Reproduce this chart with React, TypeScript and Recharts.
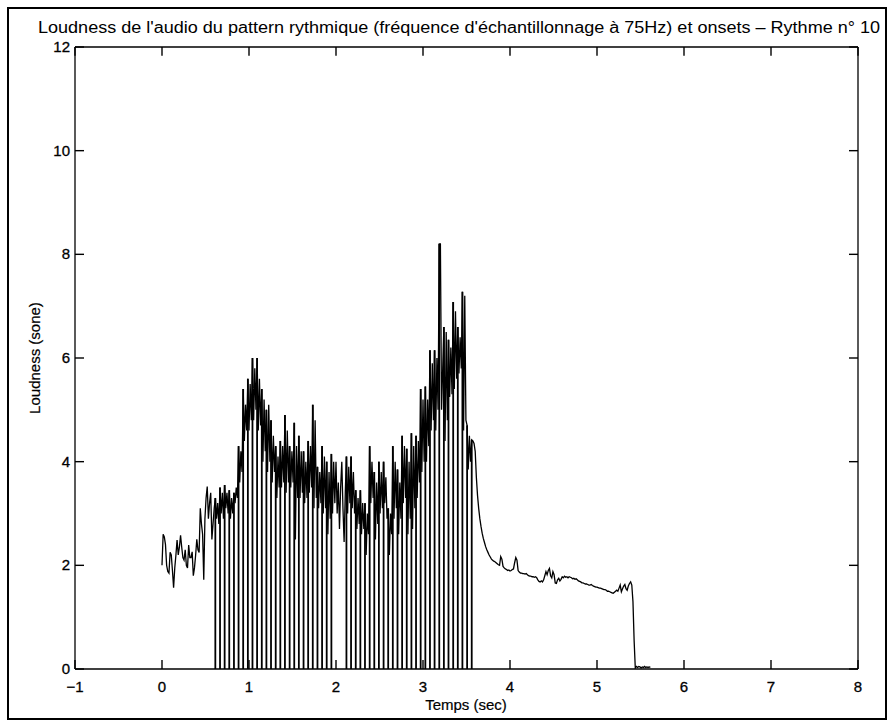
import React from "react";
import { ComposedChart, Line, XAxis, YAxis, ReferenceLine } from "recharts";

// loudness sampled at 75 Hz, starting at t = 0
const SAMPLE_RATE = 75;

const loudness = [
  // 0 - 0.6 s
  2.0, 2.6, 2.55, 2.4, 2.0, 1.88, 1.85, 2.25, 2.2, 1.9,
  1.57, 1.95, 2.2, 2.49, 2.2, 2.35, 2.58, 2.35, 2.15, 2.1,
  2.3, 2.0, 1.95, 2.39, 2.15, 2.15, 2.26, 1.8, 1.95, 2.2,
  2.5, 2.3, 2.25, 3.1, 2.8, 2.6, 1.72, 2.9, 3.3, 3.52,
  2.9, 3.2, 3.4, 2.5, 2.8, 3.1,
  // first onset group
  3.3, 2.9, 3.2, 2.8, 3.5, 3.0, 3.4, 2.9, 3.55, 3.1, 3.4, 3.0,
  3.45, 2.9, 3.3, 3.0, 3.4, 3.2, 3.5, 3.3, 4.3, 3.6, 4.2, 3.8,
  5.4, 4.4, 5.1, 4.6, 5.6, 4.6, 5.5, 4.8, 6.0, 4.8, 5.8, 5.0,
  6.0, 4.6, 5.6, 4.7, 5.4, 4.0, 5.2, 4.2, 5.0, 3.8, 5.1, 4.0,
  4.8, 3.6, 4.5, 3.8, 4.3, 3.3, 4.1, 3.5, 4.4, 3.5, 4.3, 3.6,
  4.9, 3.4, 4.6, 3.6, 4.3, 3.5, 4.2, 3.6, 4.75, 2.5, 4.3, 3.3,
  4.5, 3.3, 4.2, 3.4, 4.2, 3.2, 4.0, 3.3, 4.4, 3.4, 4.3, 3.5,
  5.1, 3.1, 4.8, 3.3, 3.9, 3.1, 3.8, 3.2, 4.3, 3.0, 4.1, 3.1,
  4.0, 2.6, 3.8, 2.9, 4.15, 3.0, 4.0, 3.2,
  // around 2 s, no onset
  4.0, 3.0, 3.6, 2.7, 3.5, 4.0, 3.1, 2.45, 3.4,
  // second onset group
  4.1, 3.0, 3.9, 3.2, 4.1, 3.1, 3.8, 3.0, 3.45, 2.7, 3.3, 2.8,
  3.45, 2.6, 3.2, 2.7, 3.2, 2.2, 3.0, 2.6, 4.3, 3.2, 4.0, 3.3,
  3.8, 2.5, 3.6, 2.8, 4.0, 3.0, 3.8, 3.1, 4.0, 3.2, 3.7, 2.9,
  3.1, 2.2, 3.0, 2.6, 4.3, 2.9, 4.0, 3.1, 3.85, 2.6, 3.6, 2.9,
  4.5, 3.2, 4.3, 3.3, 4.25, 2.6, 4.0, 2.9, 4.55, 2.7, 4.3, 3.1,
  4.5, 3.3, 4.4, 3.6, 5.4, 3.8, 5.2, 4.0, 5.45, 4.0, 5.2, 4.3,
  6.15, 4.6, 5.9, 4.8, 6.15, 4.6, 6.0, 5.0, 8.2, 8.2, 5.0, 5.8,
  6.6, 4.4, 6.5, 4.8, 6.35, 5.25, 6.2, 5.3, 7.08, 5.4, 6.9, 5.6,
  6.6, 5.7, 6.4, 5.8, 7.28, 4.6, 7.2, 4.8, 4.7, 3.85, 4.5, 4.0,
  4.42,
  // decay
  4.4, 4.35, 4.2, 3.7, 3.35, 3.1, 2.9, 2.75, 2.62, 2.52,
  2.44, 2.36, 2.3, 2.25, 2.2, 2.16, 2.12, 2.1, 2.08, 2.07,
  2.05, 2.03, 2.01, 2.0, 2.17, 2.12, 1.98, 1.95, 1.93, 1.92,
  1.9, 1.91, 1.89, 1.9, 1.92, 1.93, 2.05, 2.15, 2.1, 1.9,
  1.87, 1.85, 1.85, 1.84, 1.84, 1.83, 1.84, 1.82, 1.8, 1.79,
  1.79, 1.78, 1.78, 1.77, 1.78, 1.76, 1.72, 1.69, 1.68, 1.7,
  1.68, 1.72, 1.8, 1.88, 1.82, 1.9, 1.94, 1.8, 1.76, 1.88,
  1.82, 1.66, 1.65, 1.72, 1.75, 1.7, 1.73, 1.78, 1.76, 1.79,
  1.77, 1.78, 1.76, 1.78, 1.77, 1.76, 1.74, 1.75, 1.73, 1.74,
  1.72, 1.7, 1.69, 1.68, 1.66, 1.66, 1.65, 1.64, 1.64, 1.63,
  1.62, 1.62, 1.63, 1.61, 1.6, 1.59, 1.58, 1.58, 1.57, 1.56,
  1.56, 1.55, 1.54, 1.53, 1.53, 1.52, 1.5, 1.5, 1.49, 1.48,
  1.47, 1.46, 1.48, 1.5, 1.52, 1.5, 1.56, 1.62, 1.49, 1.55,
  1.6, 1.63, 1.55, 1.52, 1.6, 1.65, 1.68, 1.62, 1.3, 0.55,
  0.02, 0.05, 0.03, 0.05, 0.04, 0.02, 0.04, 0.03, 0.05, 0.03,
  0.04, 0.03, 0.04, 0.03,
];

// onset times (sec)
const onsetTimes = [
  0.613, 0.667, 0.72, 0.773, 0.827, 0.88, 0.933, 0.987, 1.04, 1.093,
  1.147, 1.2, 1.253, 1.307, 1.36, 1.413, 1.467, 1.52, 1.573, 1.627,
  1.68, 1.733, 1.787, 1.84, 1.893, 1.947,
  2.12, 2.173, 2.227, 2.28, 2.333, 2.387, 2.44, 2.493, 2.547, 2.6,
  2.653, 2.707, 2.76, 2.813, 2.867, 2.92, 2.973, 3.027, 3.08, 3.133,
  3.187, 3.24, 3.293, 3.347, 3.4, 3.453, 3.507, 3.56,
];

const xTicks = [-1, 0, 1, 2, 3, 4, 5, 6, 7, 8];
const yTicks = [0, 2, 4, 6, 8, 10, 12];

const series = loudness.map((v, i) => ({ t: i / SAMPLE_RATE, v }));
const onsets = onsetTimes.map((t) => ({ t, v: loudness[Math.round(t * SAMPLE_RATE)] }));

const FONT = "'Liberation Sans', Arial, sans-serif";
const MARGIN = { top: 47, right: 30, bottom: 21, left: 35 };
const Y_MAX = yTicks[yTicks.length - 1];
const TICK_LEN = 9;
const TOP_TICK_LEN = 0.17; // same 9px, in y units (622px for 12 units)
const TICK_W = 1.4;
const labelStyle = { fill: "#000", fontSize: 15, fontFamily: FONT, stroke: "#000", strokeWidth: 0.3 };
const axisLine = { stroke: "#000", strokeWidth: 1.3 };

const fmt = (v: number) => (v < 0 ? `\u2212${Math.abs(v)}` : `${v}`);

// MATLAB-style ticks: marks point inside the box
const BottomTick = (props: any) => {
  const { x, y, payload } = props;
  return (
    <g>
      <path d={`M${x},${y}V${y - TICK_LEN}`} stroke="#000" strokeWidth={TICK_W} fill="none" />
      <text x={x} y={y + 23} textAnchor="middle" style={labelStyle}>
        {fmt(payload.value)}
      </text>
    </g>
  );
};
const LeftTick = (props: any) => {
  const { x, y, payload } = props;
  return (
    <g>
      <path d={`M${x},${y}H${x + TICK_LEN}`} stroke="#000" strokeWidth={TICK_W} fill="none" />
      <text x={x - 5} y={y + 5} textAnchor="end" style={labelStyle}>
        {fmt(payload.value)}
      </text>
    </g>
  );
};
const RightTick = (props: any) => {
  const { x, y } = props;
  return <path d={`M${x},${y}H${x - TICK_LEN}`} stroke="#000" strokeWidth={TICK_W} fill="none" />;
};

export default function App() {
  return (
    <div style={{ position: "absolute", left: 0, top: 0, width: 889, height: 720, background: "#fff" }}>
      <div
        style={{
          position: "absolute",
          left: 7,
          top: 7,
          width: 880,
          height: 713,
          border: "2px solid #000",
          boxSizing: "border-box",
        }}
      />
      <div style={{ position: "absolute", left: 0, top: 0 }}>
        <ComposedChart width={889} height={720} data={series} margin={MARGIN}>
          <XAxis
            xAxisId="b"
            dataKey="t"
            type="number"
            domain={[-1, 8]}
            ticks={xTicks}
            interval={0}
            allowDataOverflow
            height={30}
            tickSize={0}
            tickMargin={0}
            tickLine={false}
            axisLine={axisLine}
            tick={BottomTick}
          />
          <YAxis
            yAxisId="l"
            type="number"
            domain={[0, 12]}
            ticks={yTicks}
            interval={0}
            allowDataOverflow
            width={40}
            tickSize={0}
            tickMargin={0}
            tickLine={false}
            axisLine={axisLine}
            tick={LeftTick}
          />
          <YAxis
            yAxisId="r"
            orientation="right"
            type="number"
            domain={[0, 12]}
            ticks={yTicks}
            interval={0}
            allowDataOverflow
            width={1}
            tickSize={0}
            tickMargin={0}
            tickLine={false}
            axisLine={axisLine}
            tick={RightTick}
          />
          {/* top edge of the box and its inward ticks */}
          <ReferenceLine xAxisId="b" yAxisId="l" y={Y_MAX} stroke="#000" strokeWidth={1.3} />
          {xTicks.map((x) => (
            <ReferenceLine
              key={`top-${x}`}
              xAxisId="b"
              yAxisId="l"
              ifOverflow="visible"
              segment={[
                { x, y: Y_MAX },
                { x, y: Y_MAX - TOP_TICK_LEN },
              ]}
              stroke="#000"
              strokeWidth={TICK_W}
            />
          ))}
          {/* invisible twin so the right box axis gets a scale */}
          <Line
            xAxisId="b"
            yAxisId="r"
            dataKey="v"
            stroke="none"
            dot={false}
            activeDot={false}
            isAnimationActive={false}
          />
          {onsets.map((o) => (
            <ReferenceLine
              key={o.t}
              xAxisId="b"
              yAxisId="l"
              segment={[
                { x: o.t, y: 0 },
                { x: o.t, y: o.v },
              ]}
              stroke="#000"
              strokeWidth={1.8}
            />
          ))}
          <Line
            xAxisId="b"
            yAxisId="l"
            dataKey="v"
            type="linear"
            stroke="#000"
            strokeWidth={1.3}
            dot={false}
            isAnimationActive={false}
          />
        </ComposedChart>
      </div>
      <svg
        width={889}
        height={720}
        style={{ position: "absolute", left: 0, top: 0, pointerEvents: "none" }}
        fontFamily={FONT}
      >
        <text
          x={459}
          y={33}
          fontSize={16}
          textAnchor="middle"
          textLength={842}
          lengthAdjust="spacingAndGlyphs"
          fill="#000"
        >
          Loudness de l'audio du pattern rythmique (fréquence d'échantillonnage à 75Hz) et onsets – Rythme n° 10
        </text>
        <text x={466} y={710} fontSize={15} textAnchor="middle" fill="#000" stroke="#000" strokeWidth={0.2}>
          Temps (sec)
        </text>
        <text
          x={0}
          y={0}
          fontSize={15}
          textAnchor="middle"
          fill="#000"
          stroke="#000"
          strokeWidth={0.2}
          transform="translate(40 358) rotate(-90)"
        >
          Loudness (sone)
        </text>
      </svg>
    </div>
  );
}
